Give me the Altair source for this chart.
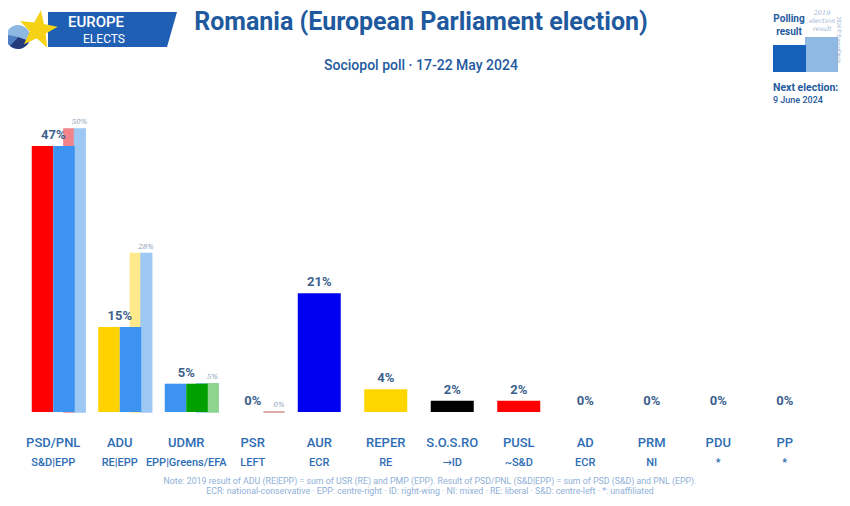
import math
import altair as alt
import pandas as pd

# ---------------- data ----------------
parties = ["PSD/PNL", "ADU", "UDMR", "PSR", "AUR", "REPER", "S.O.S.RO", "PUSL", "AD", "PRM", "PDU", "PP"]
groups = ["S&D|EPP", "RE|EPP", "EPP|Greens/EFA", "LEFT", "ECR", "RE", "\u2192ID", "~S&D", "ECR", "NI", "*", "*"]
poll = [47, 15, 5, 0, 21, 4, 2, 2, 0, 0, 0, 0]
result_2019 = [50, 28, 5, 0, None, None, None, None, None, None, None, None]

# colours (left half, right half) of each bar
poll_left = ["#FF0000", "#FFD200", "#3D94F0", None, "#0000F0", "#FFD500", "#000000", "#FF0000", None, None, None, None]
poll_right = ["#3D94F0", "#3D94F0", "#00A000", None, "#0000F0", "#FFD500", "#000000", "#FF0000", None, None, None, None]
prev_left = ["#F0848A", "#FFE98A", "#9EC8F4", "#D4908C", None, None, None, None, None, None, None, None]
prev_right = ["#9EC8F4", "#9EC8F4", "#8ED38E", "#D4908C", None, None, None, None, None, None, None, None]

# ---------------- layout constants ----------------
X0, Y0 = 20, 129          # page position of plot origin
W, H = 798, 283
HALF = 0.3233             # half width of polling bar (category units)
P_LO, P_HI = 0.16, 0.48   # 2019 bar offsets (category units)

FONT = "Roboto, 'DejaVu Sans'"
TITLE_C = "#1F5A9E"
LABEL_C = "#2E6DB4"
VAL_C = "#3C5F8C"


def segments(kind, i, p, v, lo, hi, cl, cr):
    mid = (lo + hi) / 2
    if cl == cr:
        return [dict(party=p, kind=kind, v=v, x=i + lo, x2=i + hi, c=cl)]
    return [dict(party=p, kind=kind, v=v, x=i + lo, x2=i + mid, c=cl),
            dict(party=p, kind=kind, v=v, x=i + mid, x2=i + hi, c=cr)]


rows = []
for i, p in enumerate(parties):
    if poll_left[i] is not None:
        rows += segments("poll", i, p, poll[i], -HALF, HALF, poll_left[i], poll_right[i])
    if result_2019[i] is not None:
        rows += segments("prev", i, p, result_2019[i], P_LO, P_HI, prev_left[i], prev_right[i])
bars = pd.DataFrame(rows)

labels = pd.DataFrame({
    "i": list(range(len(parties))),
    "party": parties,
    "group": groups,
    "poll": poll,
    "lbl": [f"{v}%" for v in poll],
})
prev_df = pd.DataFrame({
    "i": [i + (P_LO + P_HI) / 2 for i, v in enumerate(result_2019) if v is not None],
    "v": [v for v in result_2019 if v is not None],
    "lbl": [f"{v}%" for v in result_2019 if v is not None],
})

xs = alt.Scale(domain=[-0.5, len(parties) - 0.5], nice=False, zero=False)
ys = alt.Scale(domain=[0, 50], nice=False, zero=True)

prev_bars = alt.Chart(bars[bars.kind == "prev"]).mark_rect(strokeWidth=1.5).encode(
    x=alt.X("x:Q", scale=xs, axis=None), x2="x2:Q",
    y=alt.Y("v:Q", scale=ys, axis=None), y2=alt.datum(0),
    color=alt.Color("c:N", scale=None), stroke=alt.Color("c:N", scale=None),
)
poll_bars = alt.Chart(bars[bars.kind == "poll"]).mark_rect().encode(
    x=alt.X("x:Q", scale=xs, axis=None), x2="x2:Q",
    y=alt.Y("v:Q", scale=ys, axis=None), y2=alt.datum(0),
    color=alt.Color("c:N", scale=None),
)
poll_lbl = alt.Chart(labels).mark_text(font=FONT, fontSize=13, fontWeight=700, color=VAL_C, baseline="alphabetic", dy=-7).encode(
    x=alt.X("i:Q", scale=xs, axis=None), y=alt.Y("poll:Q", scale=ys, axis=None), text="lbl:N")
prev_lbl = alt.Chart(prev_df).mark_text(font="DejaVu Serif", fontSize=7, fontStyle="italic", color="#8A9BB5", baseline="alphabetic", dy=-5, dx=5).encode(
    x=alt.X("i:Q", scale=xs, axis=None), y=alt.Y("v:Q", scale=ys, axis=None), text="lbl:N")
party_lbl = alt.Chart(labels).mark_text(font=FONT, fontSize=13, fontWeight=500, color=LABEL_C, baseline="middle").encode(
    x=alt.X("i:Q", scale=xs, axis=None), y=alt.value(443 - Y0), text="party:N")
group_lbl = alt.Chart(labels).mark_text(font=FONT, fontSize=11, fontWeight=500, color=LABEL_C, baseline="middle").encode(
    x=alt.X("i:Q", scale=xs, axis=None), y=alt.value(463 - Y0), text="group:N")

one = pd.DataFrame({"t": [""]})


def txt(s, x, y, size, color, weight="normal", style="normal", align="center", angle=0, font=FONT, baseline="middle"):
    return alt.Chart(pd.DataFrame({"t": [s]})).mark_text(
        font=font, fontSize=size, color=color, fontWeight=weight, fontStyle=style,
        align=align, baseline=baseline, angle=angle
    ).encode(x=alt.value(x - X0), y=alt.value(y - Y0), text="t:N")


def box(x1, x2, y1, y2, color):
    return alt.Chart(one).mark_rect(color=color).encode(
        x=alt.value(x1 - X0), x2=alt.value(x2 - X0), y=alt.value(y1 - Y0), y2=alt.value(y2 - Y0))


# logo: slanted banner, star, pie
banner_path = "M-1,-0.271 L1,-0.271 L0.845,0.271 L-1,0.271 Z"
banner = alt.Chart(one).mark_point(shape=banner_path, filled=True, color="#1F5FB4", opacity=1, size=129 ** 2).encode(
    x=alt.value(112.5 - X0), y=alt.value(29.5 - Y0))
pts = []
for k in range(10):
    r = 1 if k % 2 == 0 else 0.42
    a = -math.pi / 2 + k * math.pi / 5 + 0.15
    pts.append(f"{r * math.cos(a):.3f},{r * math.sin(a):.3f}")
star_path = "M" + " L".join(pts) + " Z"
star = alt.Chart(one).mark_point(shape=star_path, filled=True, color="#F5D215", opacity=1, size=40 ** 2).encode(
    x=alt.value(38 - X0), y=alt.value(30 - Y0))
pie_bg = alt.Chart(one).mark_arc(color="#8DB8E2").encode(
    x=alt.value(18 - X0), y=alt.value(37 - Y0), theta=alt.value(0), theta2=alt.value(6.2832), radius=alt.value(12))
pie_dk = alt.Chart(one).mark_arc(color="#243C7C").encode(
    x=alt.value(18 - X0), y=alt.value(37 - Y0), theta=alt.value(1.9), theta2=alt.value(3.9), radius=alt.value(12))
pie_mid = alt.Chart(one).mark_arc(color="#4F7FC2").encode(
    x=alt.value(18 - X0), y=alt.value(37 - Y0), theta=alt.value(3.9), theta2=alt.value(4.9), radius=alt.value(12))

deco = [
    pie_bg, pie_dk, pie_mid, banner, star,
    txt("EUROPE", 96, 22, 15, "white", weight=500),
    txt("ELECTS", 104, 39, 12, "white"),
    txt("Romania (European Parliament election)", 421, 30, 25, TITLE_C, weight=700, baseline="alphabetic"),
    txt("Sociopol poll \u00b7 17-22 May 2024", 421, 66, 14, TITLE_C, weight=500),
    # legend box top right
    box(805, 838, 37, 72, "#8FB8E2"),
    box(773, 806, 45, 72, "#1560B8"),
    txt("Polling", 789, 19, 10, TITLE_C, weight=700),
    txt("result", 789, 32, 10, TITLE_C, weight=700),
    txt("2019", 822, 13, 6.5, "#9DB3CF", style="italic", font="DejaVu Serif"),
    txt("election", 822, 21, 6.5, "#9DB3CF", style="italic", font="DejaVu Serif"),
    txt("result", 822, 29, 6.5, "#9DB3CF", style="italic", font="DejaVu Serif"),
    txt("2024 \u00a9 EuropeElects", 839, 40, 5, "#9DB3CF", angle=90),
    txt("Next election:", 773, 88, 10.5, TITLE_C, weight=700, align="left"),
    txt("9 June 2024", 773, 100, 9, TITLE_C, weight=500, align="left"),
    # note
    txt("Note: 2019 result of ADU (RE|EPP) = sum of USR (RE) and PMP (EPP). Result of PSD/PNL (S&D|EPP) = sum of PSD (S&D) and PNL (EPP).",
        430, 481, 8.8, "#8FB0D8"),
    txt("ECR: national-conservative \u00b7 EPP: centre-right \u00b7 ID: right-wing \u00b7 NI: mixed \u00b7 RE: liberal \u00b7 S&D: centre-left \u00b7 *: unaffiliated",
        430, 491, 8.8, "#8FB0D8"),
]

chart = alt.layer(
    *deco, prev_bars, poll_bars, poll_lbl, prev_lbl, party_lbl, group_lbl
).properties(
    width=W, height=H,
    autosize=alt.AutoSizeParams(type="none"),
    padding={"left": X0 - 8, "top": Y0 - 8, "right": 834 - (X0 - 8) - W, "bottom": 498 - Y0 - H},
    background="white",
).configure_view(stroke=None)

chart.save("out.html", embed_options={"renderer": "svg", "actions": False})
